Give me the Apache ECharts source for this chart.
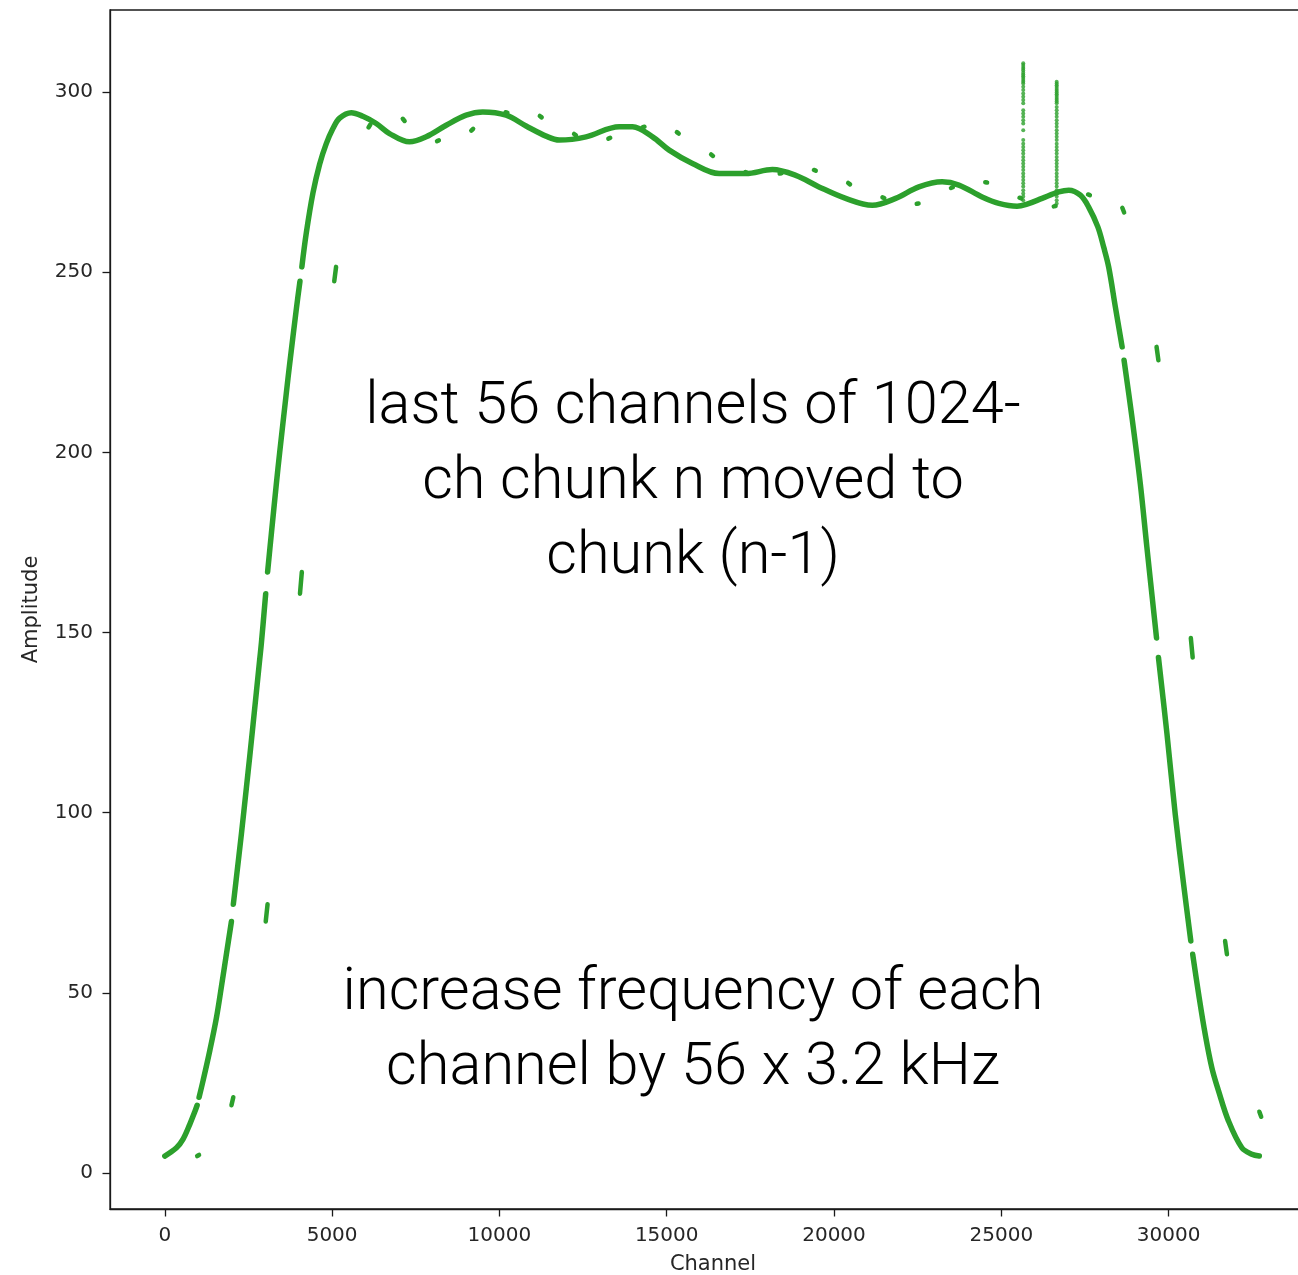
<!DOCTYPE html>
<html>
<head>
<meta charset="utf-8">
<script src="https://cdn.jsdelivr.net/npm/echarts@6/dist/echarts.min.js"></script>
<style>
  html, body { margin: 0; padding: 0; background: #ffffff; overflow: hidden; }
  #chart { width: 1298px; height: 1275px; }
</style>
</head>
<body>
<div id="chart"></div>
<script>
// Axis ticks
const xTicks = [0, 5000, 10000, 15000, 20000, 25000, 30000];
const yTicks = [0, 50, 100, 150, 200, 250, 300];

// Passband shape: channel / amplitude, null starts a new run
// (the last 56 channels of each 1024-channel chunk on the steep edges are missing)
const curveChannel = [
  0, 349, 546, 746, 896, 967, null,
  1024, 1143, 1343, 1543, 1693, 1842, 1991, null,
  2048, 2140, 2289, 2439, 2537, 2737, 2836, 2886, 3015, null,
  3072, 3185, 3334, 3433, 3632, 3731, 3931, 4039, null,
  4096, 4230, 4427, 4627, 4826, 5024, 5224, 5573, 5919, 6319, 6716, 7313, 7812,
  8409, 9006, 9502, 10200, 10797, 11394, 11791, 12588, 13582, 13979, 14576,
  15074, 15770, 16567, 17363, 18159, 18856, 19552, 20348, 21144, 21841, 22537,
  23233, 23731, 24426, 24925, 25471, 25770, 26218, 26716, 27015, 27364, 27611,
  27885, 28059, 28208, 28408, 28611, null,
  28668, 28904, 29154, 29351, 29639, null,
  29696, 29950, 30199, 30450, 30663, null,
  30720, 30900, 31094, 31293, 31492, 31791, 32189, 32488, 32711
];
const curveAmplitude = [
  4.7, 7.0, 9.4, 13.5, 17.0, 18.8, null,
  21.0, 25.6, 33.9, 43.1, 51.8, 60.8, 69.8, null,
  74.6, 82.0, 94.1, 107.0, 115.5, 133.5, 142.5, 147.0, 160.8, null,
  166.8, 177.5, 191.3, 200.0, 216.5, 224.5, 239.8, 247.5, null,
  251.5, 261.0, 272.0, 280.0, 285.7, 289.9, 292.8, 294.3, 293.3, 291.3, 288.5, 286.2, 287.6,
  290.8, 293.6, 294.5, 293.6, 290.6, 287.8, 286.7, 287.6, 290.4, 290.4, 287.6,
  283.9, 280.2, 277.4, 277.4, 278.5, 276.9, 273.7, 270.5, 268.6, 270.5, 273.7,
  275.1, 274.2, 270.9, 269.1, 268.3, 268.9, 270.5, 272.3, 272.8, 271.4, 268.1,
  262.6, 257.0, 251.5, 240.4, 229.3, null,
  225.6, 209.8, 191.3, 173.7, 148.5, null,
  143.1, 122.0, 99.5, 80.0, 64.4, null,
  60.7, 49.5, 38.5, 29.2, 22.8, 14.4, 7.0, 5.2, 4.7
];

// Displaced 56-channel blocks: first channel, amplitude at first and last channel
const blockChannel = [
  968, 1992, 3016, 4040, 5064, 6088, 7112, 8136, 9160, 10184, 11208, 12232,
  13256, 14280, 15304, 16328, 17352, 18376, 19400, 20424, 21448, 22472, 23496,
  24520, 25544, 26568, 27592, 28616, 29640, 30664, 31688, 32712
];
const blockFrom = [
  4.7, 18.8, 69.8, 160.8, 247.5, 290.2, 292.6, 286.4, 289.3, 294.4, 293.4, 288.4,
  287.1, 290.3, 288.9, 282.7, 277.8, 277.4, 278.4, 274.8, 270.8, 269.0, 273.4,
  275.0, 270.7, 268.3, 271.6, 267.9, 229.3, 148.5, 64.4, 17.0
];
const blockTo = [
  5.0, 21.0, 74.6, 166.8, 251.5, 291.0, 292.0, 286.6, 289.8, 294.3, 293.0, 288.0,
  287.3, 290.4, 288.5, 282.3, 277.6, 277.5, 278.2, 274.4, 270.6, 269.1, 273.6,
  274.9, 270.5, 268.4, 271.4, 266.6, 225.6, 143.1, 60.7, 15.6
];
const blockWidth = 55;

// Narrow interference spikes
const spikeChannel = [25655, 26655];
const spike1Amp = [
  308.0, 307.5, 307.0, 306.5, 306.0, 305.4, 304.9, 304.4, 303.9, 303.4, 302.9, 302.4,
  301.5, 300.6, 299.6, 298.7, 297.8, 296.9, 295.0, 294.1, 293.2, 292.2, 291.3, 289.4,
  286.7, 285.7, 284.8, 283.9, 283.0, 282.0, 281.1, 280.2, 279.3, 278.4, 277.4, 276.5,
  275.6, 274.7, 273.8, 272.8, 271.9, 271.0, 270.0
];
const spike2Amp = [
  302.9, 302.4, 301.9, 301.4, 300.9, 300.4, 299.9, 299.4, 298.9, 298.4, 297.9, 297.4, 296.9,
  295.9, 295.0, 294.1, 293.2, 292.2, 291.3, 290.4, 289.4, 288.5, 287.6, 286.7, 285.7,
  284.8, 283.9, 283.0, 282.0, 281.1, 280.2, 279.3, 278.4, 277.4, 276.5, 275.6, 274.7,
  273.8, 272.8, 271.9, 271.0, 270.0, 269.1
];

// Annotation text
const noteTop = ['last 56 channels of 1024-', 'ch chunk n moved to', 'chunk (n-1)'];
const noteBottom = ['increase frequency of each', 'channel by 56 x 3.2 kHz'];

const GREEN = '#2ca02c';
const INK = '#262626';
const tickFont = { fontFamily: 'DejaVu Sans', fontSize: 20, color: INK };
const nameFont = { fontFamily: 'DejaVu Sans', fontSize: 21, color: INK };

// Split the curve into continuous runs
const runs = [];
let cur = [];
curveChannel.forEach((c, i) => {
  if (c === null) { if (cur.length) runs.push(cur); cur = []; }
  else cur.push([c, curveAmplitude[i]]);
});
if (cur.length) runs.push(cur);

const series = [];
runs.forEach(run => {
  series.push({
    type: 'line', data: run, smooth: 0.35,
    showSymbol: false, silent: true,
    lineStyle: { color: GREEN, width: 5.5, cap: 'round', join: 'round' }, z: 2
  });
});
blockChannel.forEach((c, i) => {
  series.push({
    type: 'line', data: [[c, blockFrom[i]], [c + blockWidth, blockTo[i]]],
    showSymbol: false, silent: true,
    lineStyle: { color: GREEN, width: 4.5, cap: 'round' }, z: 2
  });
});
[spike1Amp, spike2Amp].forEach((amps, k) => {
  series.push({
    type: 'scatter', data: amps.map(a => [spikeChannel[k], a]),
    symbol: 'circle', symbolSize: 4, silent: true,
    itemStyle: { color: GREEN }, z: 3
  });
});

const plain = v => String(v);

const chart = echarts.init(document.getElementById('chart'), null, { renderer: 'canvas' });
chart.setOption({
  animation: false,
  backgroundColor: '#ffffff',
  grid: {
    left: 110, top: 10, width: 1206, height: 1199,
    outerBoundsMode: 'none', containLabel: false,
    show: true, borderColor: '#1a1a1a', borderWidth: 1.3, backgroundColor: 'transparent'
  },
  xAxis: {
    type: 'value', min: -1638, max: 34405,
    name: 'Channel', nameLocation: 'middle', nameGap: 45,
    nameTextStyle: nameFont,
    axisLine: { show: true, onZero: false, lineStyle: { color: '#1a1a1a', width: 1.3 } },
    axisTick: { show: true, customValues: xTicks, length: 7.5, lineStyle: { color: '#1a1a1a', width: 1.3 } },
    axisLabel: Object.assign({ customValues: xTicks, margin: 17, formatter: plain }, tickFont),
    splitLine: { show: false }
  },
  yAxis: {
    type: 'value', min: -10, max: 322.8,
    name: 'Amplitude', nameLocation: 'middle', nameGap: 68, nameRotate: 90,
    nameTextStyle: nameFont,
    axisLine: { show: true, onZero: false, lineStyle: { color: '#1a1a1a', width: 1.3 } },
    axisTick: { show: true, customValues: yTicks, length: 7.5, lineStyle: { color: '#1a1a1a', width: 1.3 } },
    axisLabel: Object.assign({ customValues: yTicks, margin: 17, formatter: plain }, tickFont),
    splitLine: { show: false }
  },
  graphic: [
    {
      type: 'text', x: 693, y: 371, silent: true,
      style: {
        text: noteTop.join('\n'), fill: '#000000',
        font: '300 59.5px Roboto', lineHeight: 75, align: 'center', verticalAlign: 'top'
      }
    },
    {
      type: 'text', x: 693, y: 957, silent: true,
      style: {
        text: noteBottom.join('\n'), fill: '#000000',
        font: '300 59.5px Roboto', lineHeight: 75, align: 'center', verticalAlign: 'top'
      }
    }
  ],
  series: series
});
</script>
</body>
</html>
